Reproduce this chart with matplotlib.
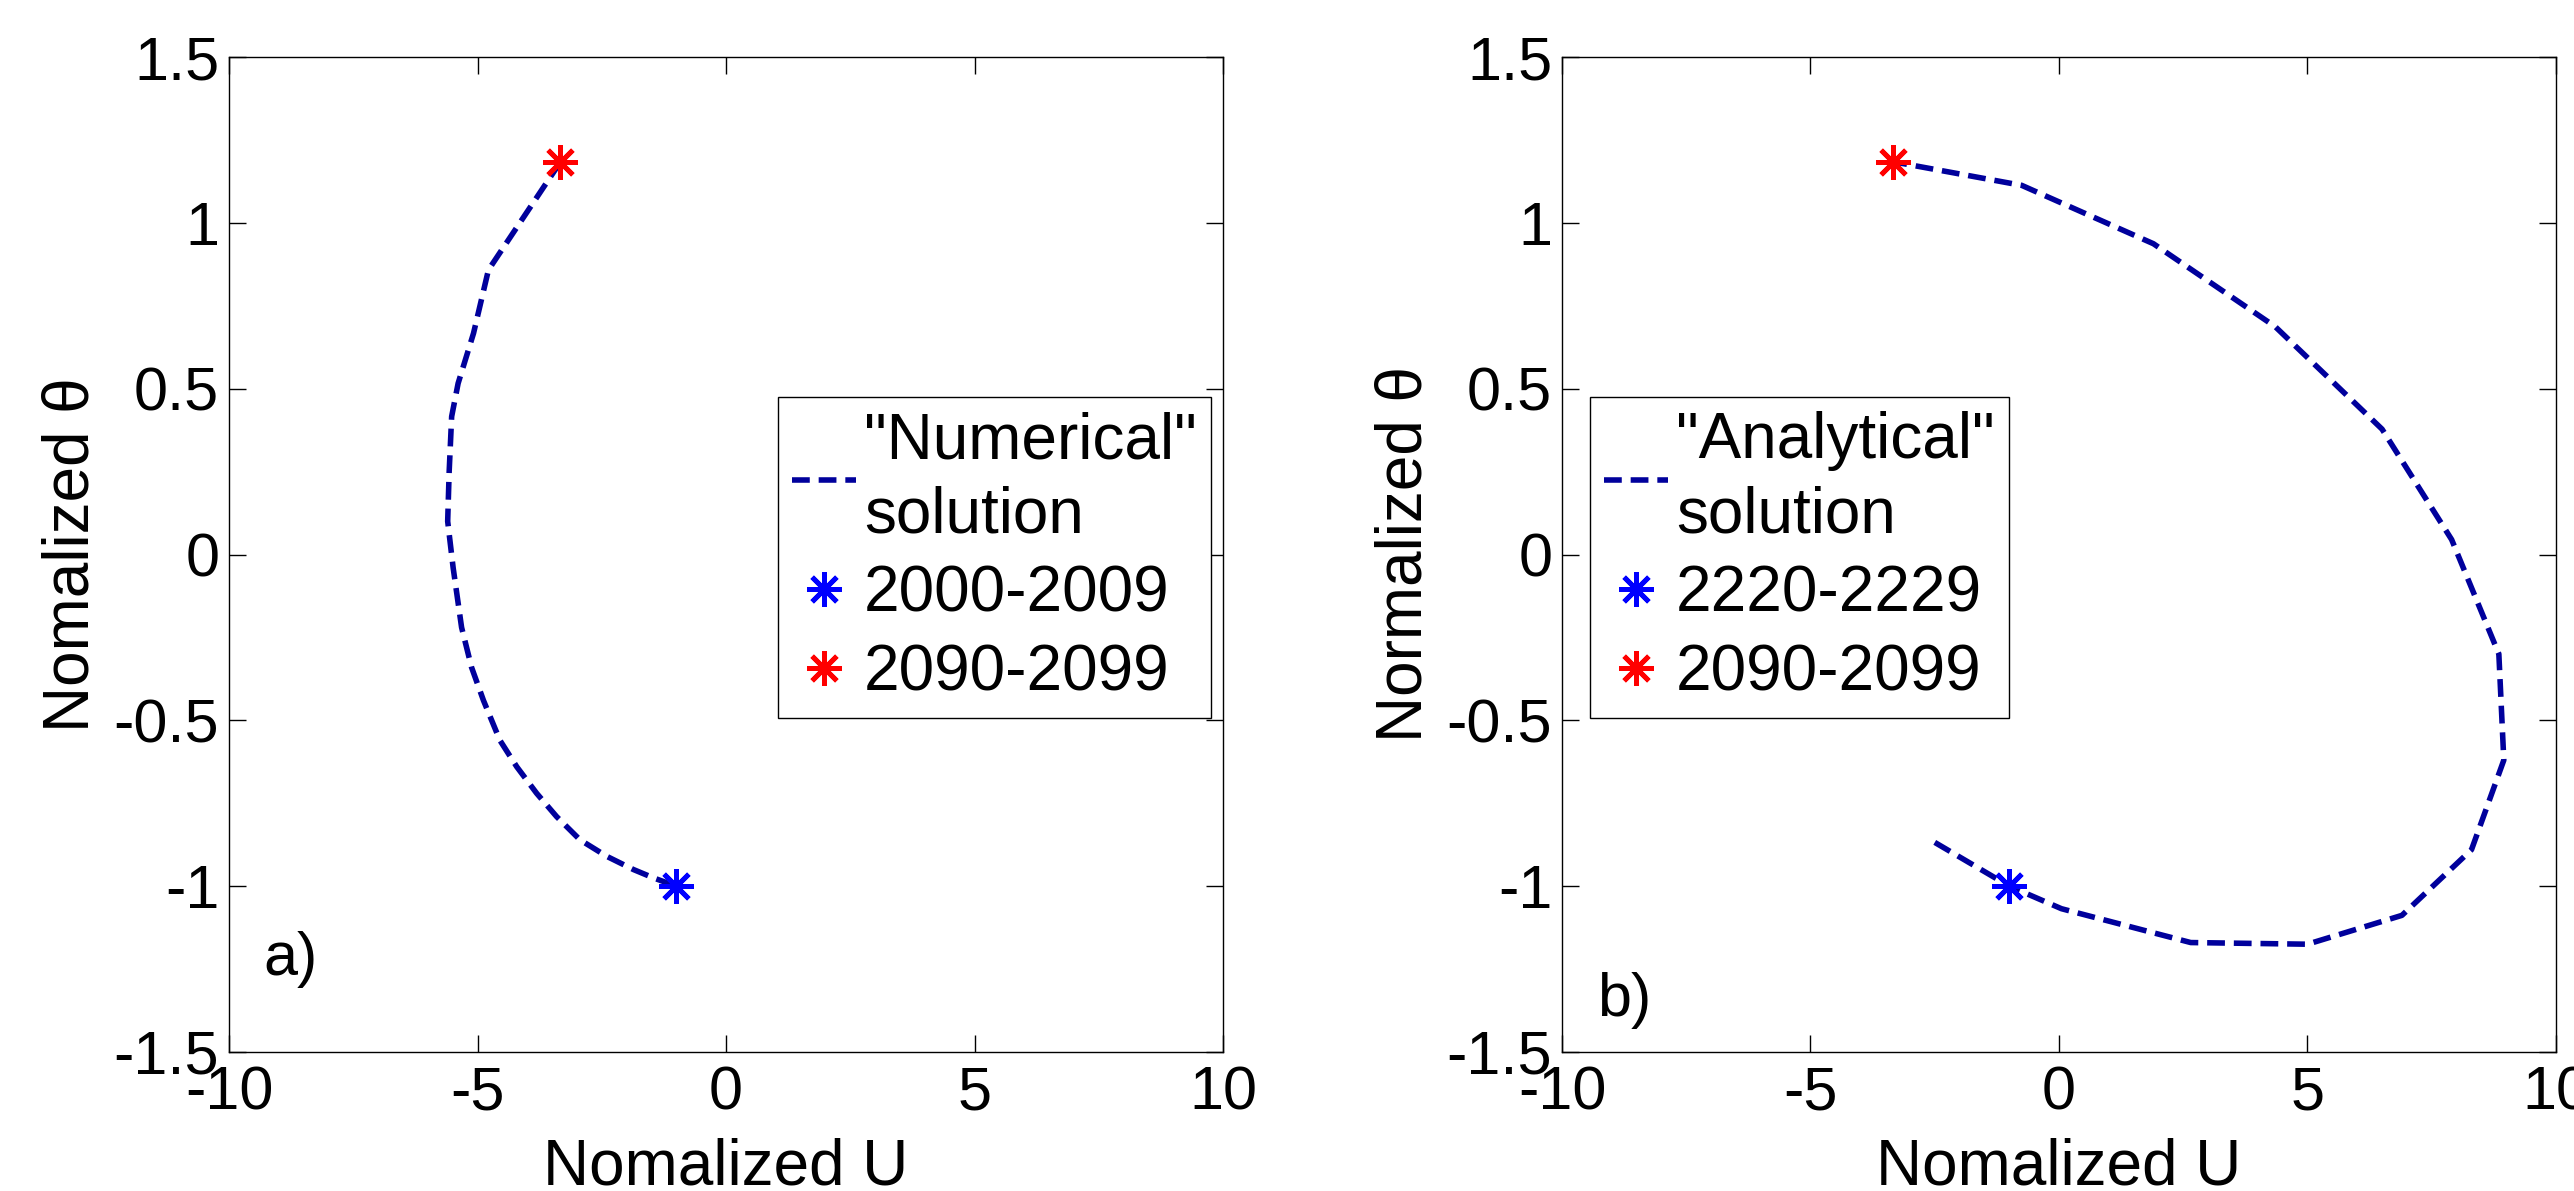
import matplotlib
matplotlib.use("Agg")
import matplotlib.pyplot as plt

plt.rcParams['font.family'] = ['Liberation Sans', 'DejaVu Sans']
plt.rcParams['axes.unicode_minus'] = False

# ---------------- data ----------------
num_u = [-3.33, -4.78, -5.08, -5.39, -5.52, -5.57, -5.60, -5.49, -5.32, -5.12,
         -4.88, -4.55, -4.21, -3.81, -3.41, -2.94, -2.40, -1.86, -1.46, -1.00]
num_theta = [1.184, 0.858, 0.667, 0.516, 0.416, 0.25, 0.10, -0.04, -0.22, -0.34,
             -0.44, -0.56, -0.64, -0.72, -0.79, -0.86, -0.91, -0.95, -0.975, -1.00]

ana_u = [-2.50, -1.00, 0.05, 2.65, 5.00, 6.90, 8.30, 8.95, 8.85, 7.90,
         6.50, 4.35, 1.90, -0.75, -3.33]
ana_theta = [-0.868, -1.00, -1.068, -1.170, -1.175, -1.088, -0.890, -0.620, -0.300, 0.045,
             0.378, 0.687, 0.937, 1.113, 1.184]

start_pt = (-1.0, -1.0)
end_pt = (-3.33, 1.184)

xticks = [-10, -5, 0, 5, 10]
xticklabels = ['-10', '-5', '0', '5', '10']
yticks = [-1.5, -1, -0.5, 0, 0.5, 1, 1.5]
yticklabels = ['-1.5', '-1', '-0.5', '0', '0.5', '1', '1.5']

panels = [
    dict(u=num_u, t=num_theta, line_label='"Numerical"\nsolution',
         blue_label='2000-2009', red_label='2090-2099',
         ylabel='Nomalized \u03b8', tag='a)', tag_y=-1.22, leg_x=0.552),
    dict(u=ana_u, t=ana_theta, line_label='"Analytical"\nsolution',
         blue_label='2220-2229', red_label='2090-2099',
         ylabel='Normalized \u03b8', tag='b)', tag_y=-1.345, leg_x=0.028),
]

# ---------------- figure ----------------
W, H = 2574, 1191
fig = plt.figure(figsize=(W / 100, H / 100), dpi=100)
axes_px = [(229, 139, 994, 995), (1562, 139, 994, 995)]

line_color = '#00009C'
FS = 44
LABFS = 46
LFS = 46

for p, (l, b, w, h) in zip(panels, axes_px):
    ax = fig.add_axes([l / W, b / H, w / W, h / H])
    ax.plot(p['u'], p['t'], color=line_color, lw=4.0, ls=(0, (3.2, 1.6)),
            label=p['line_label'])
    ax.plot([start_pt[0]], [start_pt[1]], ls='none', marker=(8, 2, 0), ms=25, mew=3.5,
            color='#0000FF', label=p['blue_label'])
    ax.plot([end_pt[0]], [end_pt[1]], ls='none', marker=(8, 2, 0), ms=25, mew=3.5,
            color='#FF0000', label=p['red_label'])

    ax.set_xlim(-10, 10)
    ax.set_ylim(-1.5, 1.5)
    ax.set_xticks(xticks)
    ax.set_xticklabels(xticklabels)
    ax.set_yticks(yticks)
    ax.set_yticklabels(yticklabels)
    ax.tick_params(direction='in', length=12, width=1, top=True, right=True,
                   labelsize=FS, pad=7)
    ax.tick_params(axis='x', pad=10)
    for s in ax.spines.values():
        s.set_linewidth(1.0)

    ax.set_xlabel('Nomalized U', fontsize=LABFS, va='baseline')
    ax.xaxis.set_label_coords(0.5, -0.133)
    ax.set_ylabel(p['ylabel'], fontsize=LABFS)
    ax.yaxis.set_label_coords(-0.128, 0.5)

    ax.text(-9.3, p['tag_y'], p['tag'], fontsize=FS, ha='left', va='center')

    leg = ax.legend(loc='upper left', bbox_to_anchor=(p['leg_x'], 0.658),
                    borderaxespad=0, fontsize=LFS, frameon=True, fancybox=False,
                    framealpha=1, edgecolor='black', borderpad=0.22,
                    handlelength=1.0, handletextpad=0.13, labelspacing=0.3,
                    numpoints=1)
    leg.get_frame().set_linewidth(1.0)
    for t in leg.get_texts():
        t.set_linespacing(1.3)

fig.savefig('out.png', dpi=100, facecolor='white')
